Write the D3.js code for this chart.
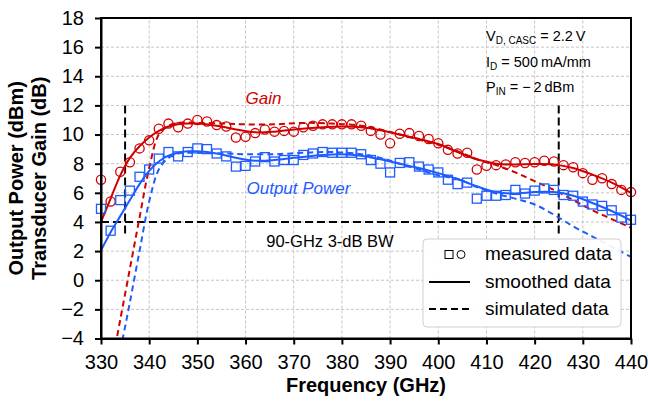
<!DOCTYPE html>
<html lang="en">
<head>
  <meta charset="UTF-8">
  <title>Output Power / Transducer Gain vs Frequency</title>
  <script src="https://d3js.org/d3.v7.min.js"></script>
  <style>
    body { margin: 0; background: #fff; }
    svg { font-family: "Liberation Sans", Arial, sans-serif; }
    .grid line { stroke: #c4c4c4; stroke-dasharray: 3,2; stroke-width: 1px; }
    .axis path, .axis line { stroke: #000; stroke-width: 2px; }
    .axis text { font-size: 20px; fill: #000; }
  </style>
</head>
<body>
  <div id="chart"></div>
  <script>
    // measured data, every 2 GHz
    const freqMeas = [330, 332, 334, 336, 338, 340, 342, 344, 346, 348, 350, 352, 354, 356, 358, 360,
      362, 364, 366, 368, 370, 372, 374, 376, 378, 380, 382, 384, 386, 388, 390, 392, 394, 396, 398, 400,
      402, 404, 406, 408, 410, 412, 414, 416, 418, 420, 422, 424, 426, 428, 430, 432, 434, 436, 438, 440];
    const gainMeas = [6.9, 5.4, 7.45, 8.1, 9.05, 9.6, 10.4, 10.75, 10.5, 10.75, 11.0, 10.9, 10.65, 10.55, 9.8, 9.85,
      10.1, 10.35, 10.2, 10.25, 10.2, 10.5, 10.6, 10.7, 10.7, 10.7, 10.7, 10.6, 10.25, 10.0, 9.4, 10.05, 10.1, 9.9, 9.7, 9.4,
      8.95, 8.7, 8.75, 7.6, 7.85, 7.9, 7.95, 8.1, 8.05, 8.1, 8.2, 8.15, 7.9, 7.75, 7.35, 6.9, 7.0, 6.6, 6.2, 6.05];
    const poutMeas = [4.9, 3.4, 5.5, 6.15, 7.1, 7.6, 8.35, 8.8, 8.5, 8.8, 9.05, 9.0, 8.7, 8.5, 7.8, 7.85,
      8.15, 8.45, 8.15, 8.25, 8.25, 8.6, 8.7, 8.8, 8.75, 8.75, 8.75, 8.65, 8.25, 8.0, 7.4, 8.05, 8.1, 7.8, 7.6, 7.4,
      6.9, 6.6, 6.7, 5.6, 5.8, 5.8, 5.85, 6.2, 5.95, 6.15, 6.3, 6.2, 5.85, 5.8, 5.4, 5.2, 5.1, 4.8, 4.3, 4.15];

    // smoothed data
    const freqSmooth = [330, 332, 334, 336, 338, 340, 342, 344, 346, 348, 350, 354, 358, 362, 366, 370, 376, 380,
      384, 388, 392, 396, 400, 404, 408, 412, 416, 420, 424, 428, 432, 436, 440];
    const gainSmooth = [4.0, 5.6, 7.2, 8.4, 9.2, 9.8, 10.25, 10.55, 10.7, 10.75, 10.75, 10.6, 10.35, 10.15, 10.2, 10.35, 10.5, 10.55,
      10.5, 10.3, 10.0, 9.7, 9.35, 8.8, 8.3, 8.0, 7.95, 7.98, 7.95, 7.7, 7.25, 6.7, 6.0];
    const poutSmooth = [2.05, 3.3, 4.4, 5.5, 6.6, 7.5, 8.15, 8.55, 8.75, 8.85, 8.85, 8.7, 8.4, 8.2, 8.25, 8.4, 8.6, 8.65,
      8.55, 8.3, 8.0, 7.7, 7.35, 6.95, 6.45, 6.05, 5.95, 6.05, 6.05, 5.8, 5.3, 4.75, 4.1];

    // simulated data
    const freqSim = [333, 334, 336, 338, 340, 342, 344, 346, 350, 356, 360, 366, 372, 378, 384, 388, 392, 396, 400,
      404, 408, 412, 416, 420, 424, 428, 432, 436, 440];
    const gainSim = [-4.5, -2.7, 0.8, 4.3, 7.7, 10.0, 10.6, 10.8, 10.8, 10.75, 10.7, 10.7, 10.8, 10.75, 10.6, 10.35, 10.0, 9.65, 9.3,
      8.85, 8.3, 7.9, 7.4, 6.8, 6.2, 5.5, 4.8, 4.2, 3.6];
    const freqSimP = [334, 335, 336, 338, 340, 342, 344, 346, 350, 356, 360, 366, 372, 378, 384, 388, 392, 396, 400,
      404, 408, 412, 416, 420, 424, 428, 432, 436, 440];
    const poutSim = [-4.8, -3.2, -1.5, 2.0, 5.4, 7.6, 8.4, 8.7, 8.75, 8.7, 8.65, 8.65, 8.75, 8.8, 8.65, 8.4, 8.0, 7.6, 7.2,
      6.95, 6.4, 5.95, 5.6, 5.2, 4.5, 3.7, 3.0, 2.3, 1.6];

    const xTicks = [330, 340, 350, 360, 370, 380, 390, 400, 410, 420, 430, 440];
    const yTicks = [-4, -2, 0, 2, 4, 6, 8, 10, 12, 14, 16, 18];

    // 3-dB bandwidth markers
    const bwFreq = [335, 425];
    const bwLevel = 4;
    const bwTop = 12;
    const bwBottom = 3;

    const red = "#d00000";
    const blue = "#1f5cff";

    const width = 650, height = 405;
    const margin = { top: 18, right: 19, bottom: 66.5, left: 101 };

    const svg = d3.select("#chart").append("svg")
      .attr("width", width).attr("height", height);

    const x = d3.scaleLinear().domain([330, 440]).range([margin.left, width - margin.right]);
    const y = d3.scaleLinear().domain([-4, 18]).range([height - margin.bottom, margin.top]);

    svg.append("clipPath").attr("id", "plot")
      .append("rect")
      .attr("x", margin.left).attr("y", margin.top)
      .attr("width", x(440) - x(330)).attr("height", y(-4) - y(18));

    // grid
    const grid = svg.append("g").attr("class", "grid");
    grid.selectAll(".gx").data(xTicks.slice(1, -1)).join("line")
      .attr("x1", d => x(d)).attr("x2", d => x(d))
      .attr("y1", y(-4)).attr("y2", y(18));
    grid.selectAll(".gy").data(yTicks.slice(1, -1)).join("line")
      .attr("class", "gy")
      .attr("x1", x(330)).attr("x2", x(440))
      .attr("y1", d => y(d)).attr("y2", d => y(d));

    // bandwidth lines
    const bw = svg.append("g").attr("stroke", "#000").attr("stroke-width", 2).attr("stroke-dasharray", "8,4");
    bw.append("line")
      .attr("x1", x(330)).attr("x2", x(bwFreq[1]))
      .attr("y1", y(bwLevel)).attr("y2", y(bwLevel));
    bw.selectAll(".v").data(bwFreq).join("line")
      .attr("x1", d => x(d)).attr("x2", d => x(d))
      .attr("y1", y(bwTop)).attr("y2", y(bwBottom));

    svg.append("text")
      .attr("x", x(364.3)).attr("y", y(bwLevel) + 25)
      .attr("font-size", 16.5)
      .text("90-GHz 3-dB BW");

    const line = d3.line()
      .x(d => x(d[0]))
      .y(d => y(d[1]))
      .curve(d3.curveCatmullRom);

    const lines = svg.append("g").attr("clip-path", "url(#plot)").attr("fill", "none").attr("stroke-width", 2);

    lines.append("path").datum(d3.zip(freqSim, gainSim))
      .attr("stroke", red).attr("stroke-dasharray", "6,4").attr("d", line);
    lines.append("path").datum(d3.zip(freqSimP, poutSim))
      .attr("stroke", blue).attr("stroke-dasharray", "6,4").attr("d", line);
    lines.append("path").datum(d3.zip(freqSmooth, gainSmooth))
      .attr("stroke", red).attr("d", line);
    lines.append("path").datum(d3.zip(freqSmooth, poutSmooth))
      .attr("stroke", blue).attr("d", line);

    // markers
    svg.append("g").selectAll("circle").data(d3.zip(freqMeas, gainMeas)).join("circle")
      .attr("cx", d => x(d[0])).attr("cy", d => y(d[1])).attr("r", 4.6)
      .attr("fill", "none").attr("stroke", red).attr("stroke-width", 1.3);

    svg.append("g").selectAll("rect").data(d3.zip(freqMeas, poutMeas)).join("rect")
      .attr("x", d => x(d[0]) - 4.5).attr("y", d => y(d[1]) - 4.5)
      .attr("width", 9).attr("height", 9)
      .attr("fill", "none").attr("stroke", blue).attr("stroke-width", 1.3);

    // labels
    svg.append("text").attr("x", x(360)).attr("y", y(12) - 1)
      .attr("fill", red).attr("font-size", 17).attr("font-style", "italic").text("Gain");
    svg.append("text").attr("x", x(360.2)).attr("y", y(6) + 1)
      .attr("fill", blue).attr("font-size", 17).attr("font-style", "italic").text("Output Power");

    // conditions
    const cond = svg.append("g").attr("font-size", 14.5);
    const addCond = (yy, main, sub, rest) => {
      const t = cond.append("text").attr("x", 486).attr("y", yy);
      t.append("tspan").text(main);
      t.append("tspan").attr("font-size", 10).attr("dy", 3).text(sub);
      t.append("tspan").attr("dy", -3).text(rest);
    };
    addCond(41, "V", "D, CASC", " = 2.2\u2009V");
    addCond(67, "I", "D", " = 500\u2009mA/mm");
    addCond(92, "P", "IN", " = \u2212\u20092\u2009dBm");

    // axes
    svg.append("g").attr("class", "axis")
      .attr("transform", `translate(0,${y(-4)})`)
      .call(d3.axisBottom(x).tickValues(xTicks).tickSize(6).tickPadding(10).tickSizeOuter(0));
    svg.append("g").attr("class", "axis")
      .attr("transform", `translate(${x(330)},0)`)
      .call(d3.axisLeft(y).tickValues(yTicks).tickSize(6).tickPadding(11).tickSizeOuter(0));

    svg.append("rect")
      .attr("x", x(330)).attr("y", y(18))
      .attr("width", x(440) - x(330)).attr("height", y(-4) - y(18))
      .attr("fill", "none").attr("stroke", "#000").attr("stroke-width", 2);

    // axis titles
    svg.append("text")
      .attr("x", x(385)).attr("y", 392)
      .attr("text-anchor", "middle").attr("font-size", 20).attr("font-weight", "bold")
      .text("Frequency (GHz)");
    const yt = svg.append("text")
      .attr("transform", `translate(0,${y(7)}) rotate(-90)`)
      .attr("text-anchor", "middle").attr("font-size", 20).attr("font-weight", "bold");
    yt.append("tspan").attr("x", 0).attr("y", 23).text("Output Power (dBm)");
    yt.append("tspan").attr("x", 0).attr("y", 46).text("Transducer Gain (dB)");

    // legend
    const lg = svg.append("g").attr("transform", "translate(423,239)");
    lg.append("rect").attr("width", 198).attr("height", 88).attr("rx", 4)
      .attr("fill", "#fff").attr("fill-opacity", 0.92).attr("stroke", "#cfcfcf");
    lg.append("rect").attr("x", 22).attr("y", 11.5).attr("width", 8).attr("height", 8)
      .attr("fill", "none").attr("stroke", "#000").attr("stroke-width", 1);
    lg.append("circle").attr("cx", 38).attr("cy", 15.5).attr("r", 4)
      .attr("fill", "none").attr("stroke", "#000").attr("stroke-width", 1);
    lg.append("line").attr("x1", 6).attr("x2", 47).attr("y1", 43).attr("y2", 43)
      .attr("stroke", "#000").attr("stroke-width", 2);
    lg.append("line").attr("x1", 6).attr("x2", 47).attr("y1", 70).attr("y2", 70)
      .attr("stroke", "#000").attr("stroke-width", 2).attr("stroke-dasharray", "7,4");
    const lgText = ["measured data", "smoothed data", "simulated data"];
    lg.selectAll(".lt").data(lgText).join("text")
      .attr("x", 62).attr("y", (d, i) => 21 + i * 27.5)
      .attr("font-size", 19).text(d => d);
  </script>
</body>
</html>
